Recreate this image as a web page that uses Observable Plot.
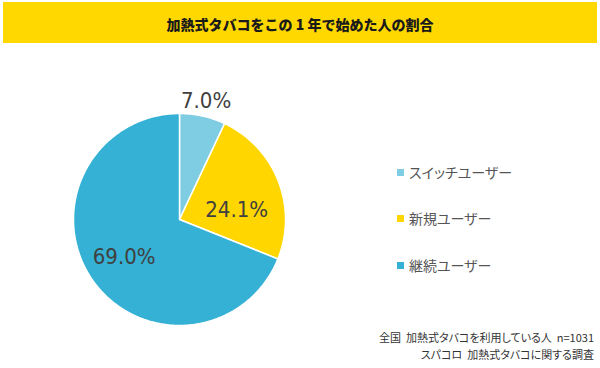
<!DOCTYPE html>
<html><head><meta charset="utf-8">
<script src="https://cdn.jsdelivr.net/npm/d3@7"></script>
<script src="https://cdn.jsdelivr.net/npm/@observablehq/plot@0.6"></script>
<style>
body{margin:0;background:#fff;font-family:"Noto Sans CJK JP",sans-serif;}
#wrap{position:relative;width:600px;height:368px;overflow:hidden;}
#title{position:absolute;left:3px;top:2px;width:594px;height:41px;background:#FFD800;display:flex;align-items:center;justify-content:center;font-weight:900;font-size:14px;color:#1a1a1a;padding-top:2px;box-sizing:border-box;}
#chart{position:absolute;left:0;top:0;}
.leg{position:absolute;left:397px;font-size:14px;color:#555;display:flex;align-items:center;font-feature-settings:"palt";}
.leg span.sw{display:inline-block;width:7px;height:7px;margin-right:5px;}
.foot{position:absolute;right:6px;font-size:11px;color:#333;white-space:pre;font-feature-settings:"palt";}
</style></head>
<body><div id="wrap">
<div id="chart"></div>
<div id="title"></div>
</div>
<script>
const titleText = "加熱式タバコをこの 1 年で始めた人の割合";
const categories = ["スイッチユーザー", "新規ユーザー", "継続ユーザー"];
const values = [7.0, 24.1, 69.0];
const labels = ["7.0%", "24.1%", "69.0%"];
const colors = ["#7FCDE2", "#FFD600", "#34B1D4"];
const footnotes = ["全国  加熱式タバコを利用している人  n=1031", "スパコロ  加熱式タバコに関する調査"];

document.getElementById("title").textContent = titleText;

const arcs = d3.pie().sort(null).startAngle(0).endAngle(2*Math.PI)(values);
const slices = arcs.map((a, i) => {
  const pts = [{x:0, y:0}];
  const n = Math.max(2, Math.ceil((a.endAngle - a.startAngle) / (Math.PI/180)));
  for (let k = 0; k <= n; k++) {
    const t = a.startAngle + (a.endAngle - a.startAngle) * k / n;
    pts.push({x: Math.sin(t), y: Math.cos(t)});
  }
  return {pts, color: colors[i]};
});
const labelR = [1.15, 0.58, 0.63];
const labelDy = [0, 13, 0];
const labelData = arcs.map((a, i) => {
  const m = (a.startAngle + a.endAngle) / 2;
  return {x: labelR[i]*Math.sin(m), y: labelR[i]*Math.cos(m), text: labels[i], dy: labelDy[i]};
});

const cx = 179, cy = 219, r = 106;
const plot = Plot.plot({
  width: 600, height: 368,
  margin: 0,
  x: {domain: [-1, 1], range: [cx - r, cx + r], axis: null},
  y: {domain: [-1, 1], range: [cy + r, cy - r], axis: null},
  style: {background: "transparent"},
  marks: [
    ...slices.map(s => Plot.line(s.pts, {x: "x", y: "y", fill: s.color, stroke: "white", strokeWidth: 1.5, curve: "linear-closed"})),
    ...labelData.map(d => Plot.text([d], {x: "x", y: "y", text: "text", dy: d.dy, fill: "#404040", fontSize: 22, fontFamily: "DejaVu Sans Condensed, DejaVu Sans, sans-serif"}))
  ]
});
document.getElementById("chart").appendChild(plot);

const wrap = document.getElementById("wrap");
const legY = [172, 218, 265];
categories.forEach((c, i) => {
  const d = document.createElement("div");
  d.className = "leg";
  d.style.top = (legY[i] - 10) + "px";
  d.innerHTML = `<span class="sw" style="background:${colors[i]}"></span><span>${c}</span>`;
  wrap.appendChild(d);
});
const footY = [329, 346];
footnotes.forEach((f, i) => {
  const d = document.createElement("div");
  d.className = "foot";
  d.style.top = footY[i] + "px";
  d.textContent = f;
  wrap.appendChild(d);
});
</script>
</body></html>
